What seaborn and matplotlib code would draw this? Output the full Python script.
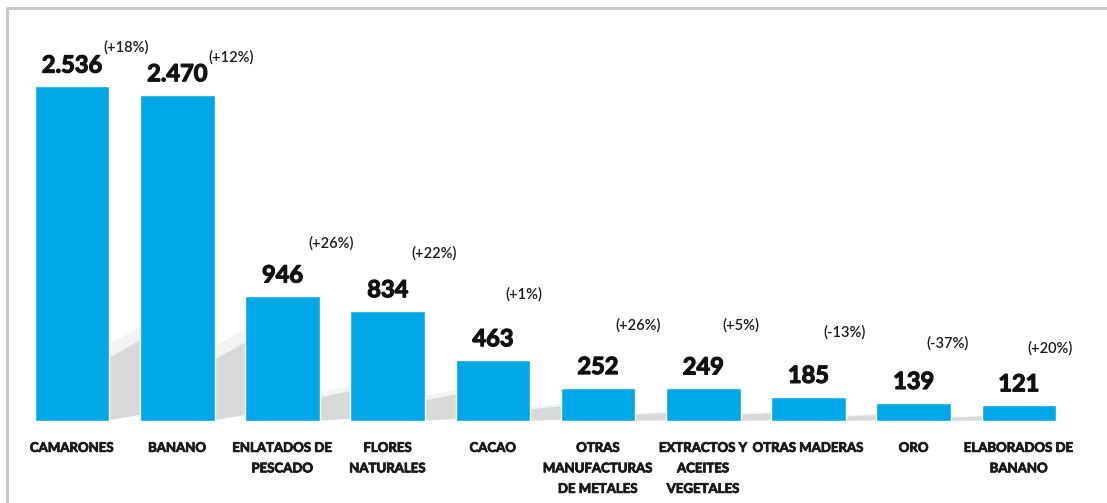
import numpy as np
import pandas as pd
import matplotlib
matplotlib.use("Agg")
import matplotlib.pyplot as plt
import matplotlib.patheffects as pe
from matplotlib.patches import Polygon
from matplotlib.lines import Line2D
import seaborn as sns

# ---- data ----
categories = ["CAMARONES", "BANANO", "ENLATADOS DE\nPESCADO", "FLORES\nNATURALES", "CACAO",
              "OTRAS\nMANUFACTURAS\nDE METALES", "EXTRACTOS Y\nACEITES\nVEGETALES",
              "OTRAS MADERAS", "ORO", "ELABORADOS DE\nBANANO"]
values = [2536, 2470, 946, 834, 463, 252, 249, 185, 139, 121]
value_labels = ["2.536", "2.470", "946", "834", "463", "252", "249", "185", "139", "121"]
pct_labels = ["(+18%)", "(+12%)", "(+26%)", "(+22%)", "(+1%)", "(+26%)", "(+5%)", "(-13%)", "(-37%)", "(+20%)"]

# ---- layout (label placement) ----
pct_x = [0.51, 1.51, 2.46, 3.44, 4.29, 5.38, 6.36, 7.34, 8.32, 9.30]
pct_y = [2831, 2755, 1347, 1272, 961, 727, 727, 674, 590, 553]

sns.set_theme(style="white")
plt.rcParams["font.family"] = ["Lato", "DejaVu Sans"]

fig = plt.figure(figsize=(11.07, 5.03), dpi=100)
ax = fig.add_axes([19.5 / 1107, 82 / 503, 1052 / 1107, 396 / 503])

df = pd.DataFrame({"cat": categories, "val": values})
bar_color = "#00A8E8"
bw = 0.71

# soft floor shadows cast up-right behind each bar
for i, v in enumerate(values[:-1]):
    H = 0.2 * v
    dy = 0.35 * H
    R = i + bw / 2
    dx = 1 - bw + 0.05
    for grow, a in [(1.1, 0.12), (0.9, 0.30)]:
        poly = Polygon([(R - 0.05, 0), (R - 0.05, H * grow), (R + dx, H * grow + dy), (R + dx, dy * 0.3)],
                       closed=True, facecolor="#a0a0a0", edgecolor="none", alpha=a, zorder=1,
                       antialiased=True)
        ax.add_patch(poly)

sns.barplot(data=df, x="cat", y="val", color=bar_color, saturation=1, width=bw, ax=ax, zorder=2)

ax.set_xlim(-0.5, 9.5)
ax.set_ylim(0, 3000)
ax.set_xlabel("")
ax.set_ylabel("")
ax.set_yticks([])
for s in ax.spines.values():
    s.set_visible(False)
ax.tick_params(axis="x", length=0, pad=15)
ax.set_xticks(range(len(categories)))
bold_fx = [pe.withStroke(linewidth=0.6, foreground="#1a1a1a")]
for t in ax.set_xticklabels(categories, fontsize=9.5, fontweight="bold", color="#1a1a1a",
                            linespacing=1.85, va="top"):
    t.set_path_effects(bold_fx)

for i, (v, lab) in enumerate(zip(values, value_labels)):
    ax.annotate(lab, (i, v), xytext=(0, 7), textcoords="offset points", ha="center", va="bottom",
                fontsize=17, fontweight="bold", color="#111111", zorder=3,
                path_effects=[pe.withStroke(linewidth=0.9, foreground="#111111")])

for x, y, p in zip(pct_x, pct_y, pct_labels):
    ax.text(x, y, p, ha="center", va="center", fontsize=10.5, fontweight="semibold",
            color="#1a1a1a", zorder=3)

# frame lines (top and left)
fig.add_artist(Line2D([7 / 1107, 1107 / 1107], [1 - 8 / 503, 1 - 8 / 503], color="#c8c8c8", lw=2.2))
fig.add_artist(Line2D([7 / 1107, 7 / 1107], [0, 1 - 8 / 503], color="#c8c8c8", lw=2.2))

fig.savefig("out.png", dpi=100, facecolor="white")
